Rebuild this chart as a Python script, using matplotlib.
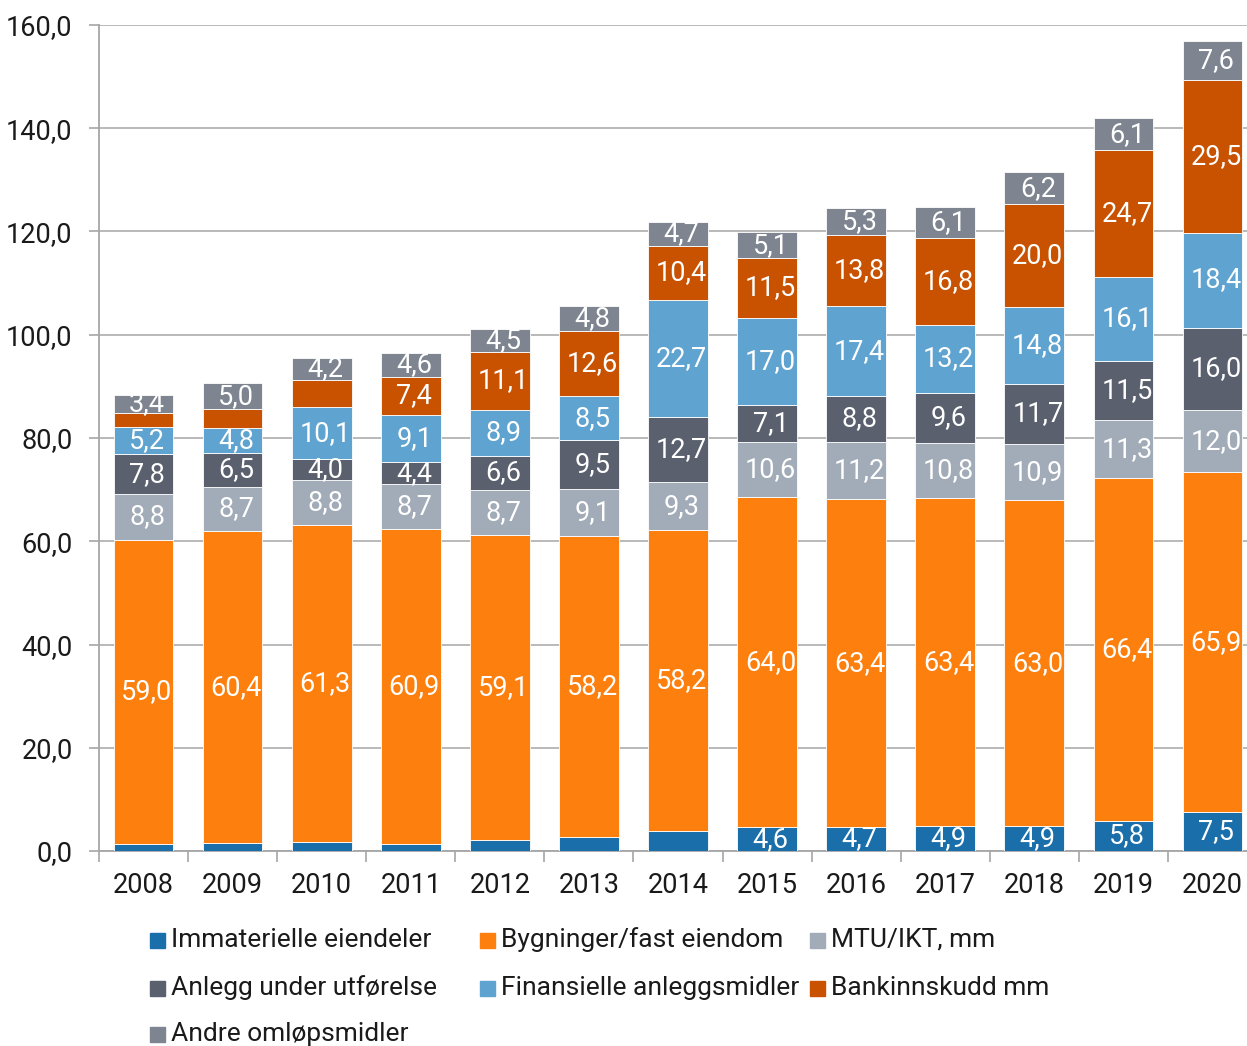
import matplotlib.pyplot as plt
from matplotlib.patches import Rectangle
import numpy as np

plt.rcParams['font.family'] = ['Roboto', 'DejaVu Sans']

years = ['2008', '2009', '2010', '2011', '2012', '2013', '2014',
         '2015', '2016', '2017', '2018', '2019', '2020']

# Verdier i mrd kr, fra bunn til topp i hver stolpe
immaterielle = [1.3, 1.5, 1.8, 1.4, 2.2, 2.8, 3.9, 4.6, 4.7, 4.9, 4.9, 5.8, 7.5]
bygninger = [59.0, 60.4, 61.3, 60.9, 59.1, 58.2, 58.2, 64.0, 63.4, 63.4, 63.0, 66.4, 65.9]
mtu_ikt = [8.8, 8.7, 8.8, 8.7, 8.7, 9.1, 9.3, 10.6, 11.2, 10.8, 10.9, 11.3, 12.0]
anlegg = [7.8, 6.5, 4.0, 4.4, 6.6, 9.5, 12.7, 7.1, 8.8, 9.6, 11.7, 11.5, 16.0]
finansielle = [5.2, 4.8, 10.1, 9.1, 8.9, 8.5, 22.7, 17.0, 17.4, 13.2, 14.8, 16.1, 18.4]
bankinnskudd = [2.8, 3.7, 5.3, 7.4, 11.1, 12.6, 10.4, 11.5, 13.8, 16.8, 20.0, 24.7, 29.5]
andre = [3.4, 5.0, 4.2, 4.6, 4.5, 4.8, 4.7, 5.1, 5.3, 6.1, 6.2, 6.1, 7.6]

series = [
    ('Immaterielle eiendeler', immaterielle, '#1a6fab'),
    ('Bygninger/fast eiendom', bygninger, '#fd7f0e'),
    ('MTU/IKT, mm', mtu_ikt, '#a2abb8'),
    ('Anlegg under utførelse', anlegg, '#5a606e'),
    ('Finansielle anleggsmidler', finansielle, '#5fa3d0'),
    ('Bankinnskudd mm', bankinnskudd, '#c85200'),
    ('Andre omløpsmidler', andre, '#7e8590'),
]

# segmenter uten verdietikett: (serie, år-indeks)
uten_etikett = {(0, i) for i in range(7)} | {(5, 0), (5, 1), (5, 2)}

W, H = 1247, 1046
fig = plt.figure(figsize=(W / 100, H / 100), dpi=100)
# aksen går litt ut over høyre kant, siste stolpe når nesten helt ut
ax = fig.add_axes([99 / W, 1 - 851 / H, 1158 / W, 826 / H])

x = np.arange(len(years))
bunn = np.zeros(len(years))
for s, (navn, verdier, farge) in enumerate(series):
    v = np.array(verdier)
    ax.bar(x, v, 0.67, bottom=bunn, color=farge, edgecolor='white',
           linewidth=0.6, label=navn, zorder=3)
    for i in range(len(years)):
        if (s, i) in uten_etikett:
            continue
        ax.annotate(f'{v[i]:.1f}'.replace('.', ','), (x[i], bunn[i] + v[i] / 2),
                    xytext=(2.5, 0), textcoords='offset points',
                    ha='center', va='center', color='white', fontsize=19.5, zorder=4)
    bunn += v

ax.set_xlim(-0.5, len(years) - 0.5)
ax.set_ylim(0, 160)
yt = np.arange(0, 161, 20)
ax.set_yticks(yt)
ax.set_yticklabels([f'{t:.1f}'.replace('.', ',') for t in yt])
ax.yaxis.grid(True, color='#b3b3b3', linewidth=1.3, zorder=0)
ax.set_axisbelow(True)

ax.set_xticks(x)
ax.set_xticklabels(years)
ax.set_xticks(np.arange(-0.5, len(years), 1), minor=True)
ax.tick_params(axis='x', which='major', length=0, pad=15, labelsize=19.5, colors='#1a1a1a')
ax.tick_params(axis='x', which='minor', length=8, width=1.2, color='#a6a6a6')
ax.tick_params(axis='y', length=7, width=1.2, color='#a6a6a6', pad=12,
               labelsize=19.5, labelcolor='#1a1a1a')

for side in ['top', 'right']:
    ax.spines[side].set_visible(False)
for side in ['left', 'bottom']:
    ax.spines[side].set_color('#a6a6a6')
    ax.spines[side].set_linewidth(1.3)

# legende med faste kolonnebredder, tre per rad
kol_x = [150, 480, 810]
rad_y = [940, 988, 1034]
for k, (navn, _, farge) in enumerate(series):
    r, c = divmod(k, 3)
    px, py = kol_x[c], rad_y[r]
    fig.add_artist(Rectangle((px / W, 1 - (py + 8) / H), 15 / W, 15 / H,
                             transform=fig.transFigure, color=farge))
    fig.text((px + 21) / W, 1 - py / H, navn, ha='left', va='center',
             fontsize=19, color='#1a1a1a')

fig.savefig('out.png', dpi=100)
